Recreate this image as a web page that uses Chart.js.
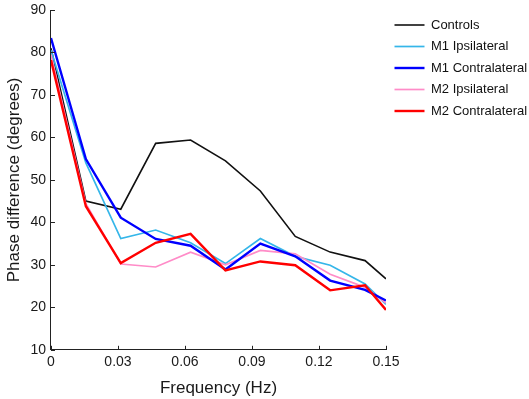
<!DOCTYPE html>
<html>
<head>
<meta charset="utf-8">
<script src="https://cdn.jsdelivr.net/npm/chart.js@4"></script>
<style>
  html, body { margin: 0; padding: 0; background: #fff; }
  #wrap { width: 529px; height: 399px; }
</style>
</head>
<body>
<div id="wrap"><canvas id="phase-chart" width="529" height="399"></canvas></div>
<script>
// frequency bins (Hz), last one is the axis limit
const freqs = [0, 0.015625, 0.03125, 0.046875, 0.0625, 0.078125, 0.09375, 0.109375, 0.125, 0.140625, 0.15]

const controls      = [81.0, 45.0, 43.1, 58.6, 59.4, 54.5, 47.4, 36.7, 33.0, 31.0, 26.7]
const m1_ipsi       = [80.5, 54.0, 36.2, 38.2, 35.2, 30.3, 36.2, 32.0, 29.9, 25.5, 20.7]
const m1_contra     = [83.4, 54.9, 41.1, 36.1, 34.5, 28.9, 35.0, 32.0, 26.3, 24.1, 21.6]
const m2_ipsi       = [79.5, 44.4, 30.2, 29.5, 33.0, 30.0, 33.4, 32.6, 27.8, 24.7, 21.0]
const m2_contra     = [78.2, 43.8, 30.4, 35.2, 37.3, 28.7, 30.8, 29.9, 24.0, 25.2, 19.4]

const x_ticks = [0, 0.03, 0.06, 0.09, 0.12, 0.15]
const y_ticks = [10, 20, 30, 40, 50, 60, 70, 80, 90]

Chart.defaults.font.family = 'Arial, "Liberation Sans", Helvetica, sans-serif'
Chart.defaults.color = '#1a1a1a'

function points(values) {
  return values.map((v, i) => ({ x: freqs[i], y: v }))
}

function series(label, values, color, width, order) {
  return {
    label: label,
    data: points(values),
    borderColor: color,
    backgroundColor: color,
    borderWidth: width,
    pointRadius: 0,
    tension: 0,
    order: order
  }
}

// matlab style ticks that point into the plot
const inward_ticks = {
  id: 'inward_ticks',
  afterDraw(chart) {
    const ctx = chart.ctx
    const area = chart.chartArea
    const xs = chart.scales.x
    const ys = chart.scales.y
    ctx.save()
    ctx.strokeStyle = '#222'
    ctx.lineWidth = 1
    ctx.beginPath()
    x_ticks.forEach(function(t) {
      const px = Math.round(xs.getPixelForValue(t)) + 0.5
      ctx.moveTo(px, area.bottom)
      ctx.lineTo(px, area.bottom - 4)
    })
    y_ticks.forEach(function(t) {
      const py = Math.round(ys.getPixelForValue(t)) + 0.5
      ctx.moveTo(area.left, py)
      ctx.lineTo(area.left + 4, py)
    })
    ctx.stroke()
    ctx.restore()
  }
}

const ctx = document.getElementById('phase-chart').getContext('2d')

new Chart(ctx, {
  type: 'line',
  data: {
    datasets: [
      series('Controls', controls, '#111111', 1.6, 5),
      series('M1 Ipsilateral', m1_ipsi, '#35b6e9', 1.7, 4),
      series('M1 Contralateral', m1_contra, '#0000ff', 2.4, 2),
      series('M2 Ipsilateral', m2_ipsi, '#ff8cc8', 1.7, 3),
      series('M2 Contralateral', m2_contra, '#ff0000', 2.4, 1)
    ]
  },
  options: {
    responsive: false,
    animation: false,
    layout: {
      padding: { top: 10, right: 0, bottom: 0, left: 4 }
    },
    plugins: {
      tooltip: { enabled: false },
      legend: {
        position: 'right',
        align: 'start',
        labels: {
          usePointStyle: true,
          pointStyle: 'line',
          pointStyleWidth: 30,
          boxHeight: 13,
          padding: 8.5,
          color: '#111',
          font: { size: 13 },
          sort: (a, b) => a.datasetIndex - b.datasetIndex
        }
      }
    },
    scales: {
      x: {
        type: 'linear',
        min: 0,
        max: 0.15,
        grid: { display: false, drawTicks: false },
        border: { display: true, color: '#222', width: 1 },
        afterBuildTicks(axis) {
          axis.ticks = x_ticks.map((v) => ({ value: v }))
        },
        ticks: {
          padding: 4,
          maxRotation: 0,
          font: { size: 14 },
          callback: (v) => (v === 0 ? '0' : v.toFixed(2))
        },
        title: {
          display: true,
          text: 'Frequency (Hz)',
          font: { size: 17 },
          padding: { top: 4, bottom: 0 }
        }
      },
      y: {
        min: 10,
        max: 90,
        grid: { display: false, drawTicks: false },
        border: { display: true, color: '#222', width: 1 },
        afterBuildTicks(axis) {
          axis.ticks = y_ticks.map((v) => ({ value: v }))
        },
        ticks: {
          padding: 5,
          font: { size: 14, lineHeight: 0.6 }
        },
        title: {
          display: true,
          text: 'Phase difference (degrees)',
          font: { size: 17 },
          padding: { top: 0, bottom: 1 }
        }
      }
    }
  },
  plugins: [inward_ticks, {
    beforeInit(chart) {
      const originalFit = chart.legend.fit
      chart.legend.fit = function fit() {
        originalFit.bind(chart.legend)()
        this.width = 143
      }
    }
  }]
})
</script>
</body>
</html>
